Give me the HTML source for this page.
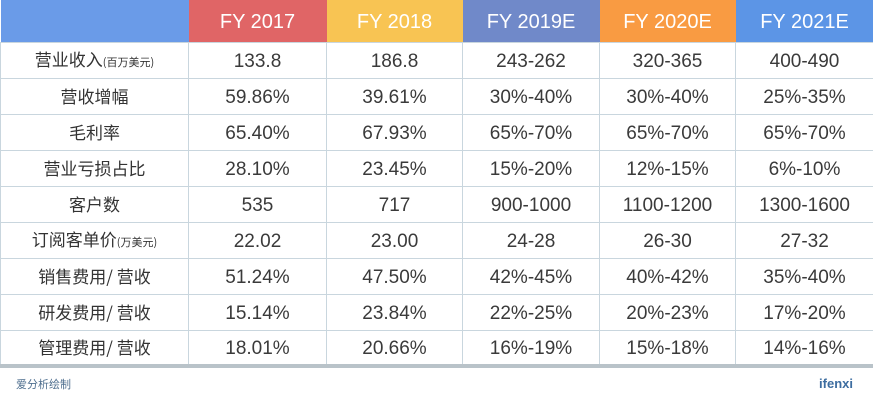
<!DOCTYPE html>
<html><head><meta charset="utf-8"><style>
body{margin:0;width:873px;height:405px;background:#fff;font-family:"Liberation Sans","Noto Sans CJK SC",sans-serif;overflow:hidden;position:relative}
table{border-collapse:collapse;position:absolute;left:0;top:0;width:873px;table-layout:fixed}
td,th{text-align:center;vertical-align:middle;color:#3a3a3a;font-size:19px;font-weight:normal;border:1.5px solid #c9d6de;height:36px;padding:3px 0 0 0;box-sizing:border-box;line-height:20px}
td:first-child{font-family:"Noto Sans CJK SC",sans-serif;font-size:17px;font-weight:400;padding:0;color:#333}
th{height:42px;color:#fff;font-size:20px;border:none;padding-top:2px}
tr:last-child td{border-bottom:4px solid #b9c3c9}
small{font-size:11px}
.foot{position:absolute;top:376px;font-size:11px;color:#4f6f8f}
</style></head><body>
<table>
<colgroup><col style="width:188px"><col style="width:138px"><col style="width:136px"><col style="width:137px"><col style="width:136px"><col style="width:138px"></colgroup>
<tr>
<th style="background:#6a9be8"></th>
<th style="background:#e06566">FY 2017</th>
<th style="background:#f8c453">FY 2018</th>
<th style="background:#7089c9">FY 2019E</th>
<th style="background:#f99b42">FY 2020E</th>
<th style="background:#5c95e6">FY 2021E</th></tr>
<tr><td>营业收入<small>(百万美元)</small></td><td>133.8</td><td>186.8</td><td>243-262</td><td>320-365</td><td>400-490</td></tr>
<tr><td>营收增幅</td><td>59.86%</td><td>39.61%</td><td>30%-40%</td><td>30%-40%</td><td>25%-35%</td></tr>
<tr><td>毛利率</td><td>65.40%</td><td>67.93%</td><td>65%-70%</td><td>65%-70%</td><td>65%-70%</td></tr>
<tr><td>营业亏损占比</td><td>28.10%</td><td>23.45%</td><td>15%-20%</td><td>12%-15%</td><td>6%-10%</td></tr>
<tr><td>客户数</td><td>535</td><td>717</td><td>900-1000</td><td>1100-1200</td><td>1300-1600</td></tr>
<tr><td>订阅客单价<small>(万美元)</small></td><td>22.02</td><td>23.00</td><td>24-28</td><td>26-30</td><td>27-32</td></tr>
<tr><td>销售费用/ 营收</td><td>51.24%</td><td>47.50%</td><td>42%-45%</td><td>40%-42%</td><td>35%-40%</td></tr>
<tr><td>研发费用/ 营收</td><td>15.14%</td><td>23.84%</td><td>22%-25%</td><td>20%-23%</td><td>17%-20%</td></tr>
<tr><td>管理费用/ 营收</td><td>18.01%</td><td>20.66%</td><td>16%-19%</td><td>15%-18%</td><td>14%-16%</td></tr>
</table>
<div class="foot" style="left:16px">爱分析绘制</div>
<div class="foot" style="right:20px;font-size:13px;font-weight:bold;color:#3d6da0">ifenxi</div>
</body></html>
